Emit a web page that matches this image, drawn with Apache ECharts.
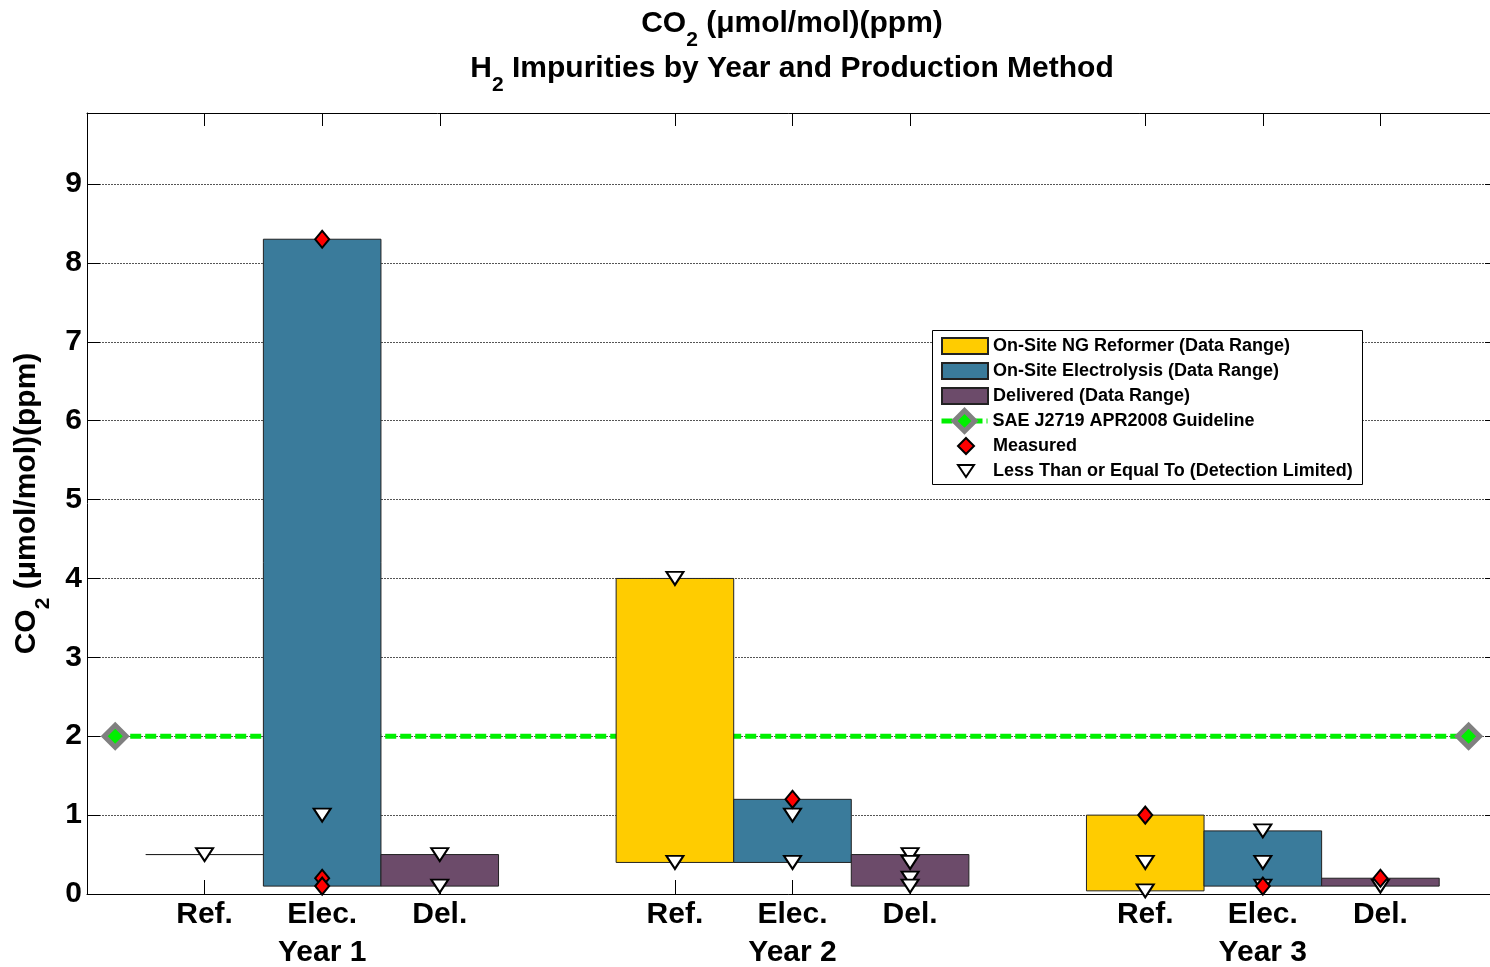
<!DOCTYPE html>
<html>
<head>
<meta charset="utf-8">
<title>CO2 H2 Impurities</title>
<script src="https://cdn.jsdelivr.net/npm/echarts@6/dist/echarts.min.js"></script>
<style>
  html, body { margin: 0; padding: 0; background: #fff; }
  #chart { width: 1490px; height: 967px; }
</style>
</head>
<body>
<div id="chart"></div>
<script>
// data ranges per production method: [position, low, high]
const refBars = [[1, 0.5, 0.5], [5, 0.4, 4.0], [9, 0.04, 1.0]];
const elecBars = [[2, 0.1, 8.3], [6, 0.4, 1.2], [10, 0.1, 0.8]];
const delBars = [[3, 0.1, 0.5], [7, 0.1, 0.5], [11, 0.1, 0.2]];

// SAE guideline level
const guideline = [[0.24, 2], [11.75, 2]];

// measured values (red diamonds)
const measured = [[2, 8.3], [2, 0.2], [2, 0.1], [6, 1.2], [9, 1.0], [10, 0.1], [11, 0.2]];

// detection limited values (triangles)
const lessThan = [
  [1, 0.5], [2, 1.0], [3, 0.5], [3, 0.1],
  [5, 4.0], [5, 0.4], [6, 1.0], [6, 0.4], [7, 0.5], [7, 0.4], [7, 0.2], [7, 0.1],
  [9, 0.4], [9, 0.04], [10, 0.8], [10, 0.4], [10, 0.1], [11, 0.1]
];

// tick labels
const tickPositions = [1, 2, 3, 5, 6, 7, 9, 10, 11];
const methodLabels = ['Ref.', 'Elec.', 'Del.', 'Ref.', 'Elec.', 'Del.', 'Ref.', 'Elec.', 'Del.'];
const yearLabels = { 2: 'Year 1', 6: 'Year 2', 10: 'Year 3' };
const yTicks = [0, 1, 2, 3, 4, 5, 6, 7, 8, 9];

const FONT = '"Liberation Sans", Arial, sans-serif';
const DOWN_TRIANGLE = 'path://M0,0 L20,0 L10,15 Z';

function rangeBar(name, color, data) {
  return {
    name: name,
    type: 'custom',
    z: 2,
    data: data,
    encode: { x: 0, y: [1, 2] },
    itemStyle: { color: color, borderColor: '#222', borderWidth: 1 },
    renderItem: function (params, api) {
      const x = api.value(0);
      const p1 = api.coord([x - 0.5, api.value(2)]);
      const p2 = api.coord([x + 0.5, api.value(1)]);
      return {
        type: 'rect',
        shape: { x: p1[0], y: p1[1], width: p2[0] - p1[0], height: p2[1] - p1[1] },
        style: { fill: color, stroke: '#222', lineWidth: 1 }
      };
    }
  };
}

const subRich = function (size, sub, pad) {
  return {
    b: { fontSize: size, fontWeight: 'bold', fontFamily: FONT, color: '#000' },
    s: { fontSize: sub, fontWeight: 'bold', fontFamily: FONT, color: '#000', padding: [pad, 0, 0, 0] }
  };
};

const legendText = { fontFamily: FONT, fontWeight: 'bold', fontSize: 18, color: '#000' };

const chart = echarts.init(document.getElementById('chart'));

const option = {
  animation: false,
  backgroundColor: '#fff',
  title: [
    {
      text: '{b|CO}{s|2}{b| (\u03bcmol/mol)(ppm)}',
      left: 792, top: -4, textAlign: 'center', padding: 0,
      textStyle: { rich: subRich(30, 21, 34) }
    },
    {
      text: '{b|H}{s|2}{b| Impurities by Year and Production Method}',
      left: 792, top: 41, textAlign: 'center', padding: 0,
      textStyle: { rich: subRich(30, 21, 34) }
    }
  ],
  graphic: [
    {
      type: 'rect', left: 932, top: 330, z: 5,
      shape: { width: 430, height: 154 },
      style: { fill: '#fff', stroke: '#000', lineWidth: 1 }
    }
  ],
  grid: { left: 87, top: 113, width: 1411, height: 781, containLabel: false, outerBoundsMode: 'none' },
  legend: [
    {
      orient: 'vertical',
      left: 932, top: 330,
      padding: [7, 8, 7, 9],
      itemGap: 7,
      itemWidth: 46,
      itemHeight: 16,
      selectedMode: false,
      textStyle: legendText,
      data: [
        { name: 'On-Site NG Reformer (Data Range)', icon: 'rect' },
        { name: 'On-Site Electrolysis (Data Range)', icon: 'rect' },
        { name: 'Delivered (Data Range)', icon: 'rect' }
      ],
      z: 10
    },
    {
      orient: 'vertical',
      left: 939, top: 408,
      padding: 0,
      itemWidth: 46,
      itemHeight: 26,
      selectedMode: false,
      textStyle: legendText,
      data: [{
        name: 'SAE J2719 APR2008 Guideline',
        itemStyle: { color: '#00F000', borderColor: '#808080', borderWidth: 5 },
        lineStyle: { color: '#00F000', width: 5, type: [11, 4] }
      }],
      z: 10
    },
    {
      orient: 'vertical',
      left: 948, top: 430,
      padding: [7, 8, 7, 9],
      itemGap: 7,
      itemWidth: 16,
      itemHeight: 16,
      selectedMode: false,
      textStyle: Object.assign({ padding: [0, 0, 0, 14] }, legendText),
      data: [
        { name: 'Measured' },
        { name: 'Less Than or Equal To (Detection Limited)', icon: DOWN_TRIANGLE }
      ],
      z: 10
    }
  ],
  xAxis: [
    {
      type: 'value', position: 'bottom', min: 0, max: 12, interval: 1,
      axisLine: { show: true, onZero: false, lineStyle: { color: '#000', width: 1 } },
      axisTick: { show: true, inside: true, length: 14, customValues: tickPositions, lineStyle: { color: '#000' } },
      splitLine: { show: false },
      axisLabel: {
        show: true, margin: 2, customValues: tickPositions,
        fontFamily: FONT, fontWeight: 'bold', fontSize: 30, color: '#000', lineHeight: 38,
        formatter: function (v) {
          const i = tickPositions.indexOf(v);
          const lab = i >= 0 ? methodLabels[i] : '';
          return yearLabels[v] ? lab + '\n' + yearLabels[v] : lab;
        }
      }
    },
    {
      type: 'value', position: 'top', min: 0, max: 12, interval: 1,
      axisLine: { show: true, onZero: false, lineStyle: { color: '#000', width: 1 } },
      axisTick: { show: true, inside: true, length: 13, customValues: tickPositions, lineStyle: { color: '#000' } },
      axisLabel: { show: false },
      splitLine: { show: false }
    }
  ],
  yAxis: [
    {
      type: 'value', position: 'left', min: 0, max: 9.9, interval: 1,
      name: '{b|CO}{s|2}{b| (\u03bcmol/mol)(ppm)}',
      nameLocation: 'middle', nameGap: 33, nameMoveOverlap: false,
      nameTextStyle: { rich: subRich(30, 21, 34) },
      axisLine: { show: true, onZero: false, lineStyle: { color: '#000', width: 1 } },
      axisTick: { show: true, inside: true, length: 13, customValues: yTicks, lineStyle: { color: '#000' } },
      axisLabel: {
        customValues: yTicks, margin: 5,
        fontFamily: FONT, fontWeight: 'bold', fontSize: 30, color: '#000'
      },
      splitLine: { show: true, lineStyle: { color: '#555', width: 1, type: [2, 1] } }
    },
    {
      type: 'value', position: 'right', min: 0, max: 9.9, interval: 1,
      axisLine: { show: true, onZero: false, lineStyle: { color: '#000', width: 1 } },
      axisTick: { show: true, inside: true, length: 13, customValues: yTicks, lineStyle: { color: '#000' } },
      axisLabel: { show: false },
      splitLine: { show: false }
    }
  ],
  series: [
    rangeBar('On-Site NG Reformer (Data Range)', '#FFCC00', refBars),
    rangeBar('On-Site Electrolysis (Data Range)', '#3A7B9B', elecBars),
    rangeBar('Delivered (Data Range)', '#6C4B6A', delBars),
    {
      name: 'SAE J2719 APR2008 Guideline',
      type: 'line',
      z: 1,
      data: guideline,
      symbol: 'diamond',
      symbolSize: 22,
      showSymbol: true,
      lineStyle: { color: '#00F000', width: 5, type: [11, 4] },
      itemStyle: { color: '#00F000', borderColor: '#808080', borderWidth: 5 }
    },
    {
      name: 'Less Than or Equal To (Detection Limited)',
      type: 'scatter',
      z: 3,
      data: lessThan,
      symbol: 'triangle',
      symbolRotate: 180,
      symbolSize: [17, 13],
      itemStyle: { color: '#fff', borderColor: '#000', borderWidth: 2, opacity: 1 }
    },
    {
      name: 'Measured',
      type: 'scatter',
      z: 4,
      data: measured,
      symbol: 'diamond',
      symbolSize: [14, 17],
      itemStyle: { color: '#FF0000', borderColor: '#000', borderWidth: 2, opacity: 1 }
    }
  ]
};

chart.setOption(option);
</script>
</body>
</html>
